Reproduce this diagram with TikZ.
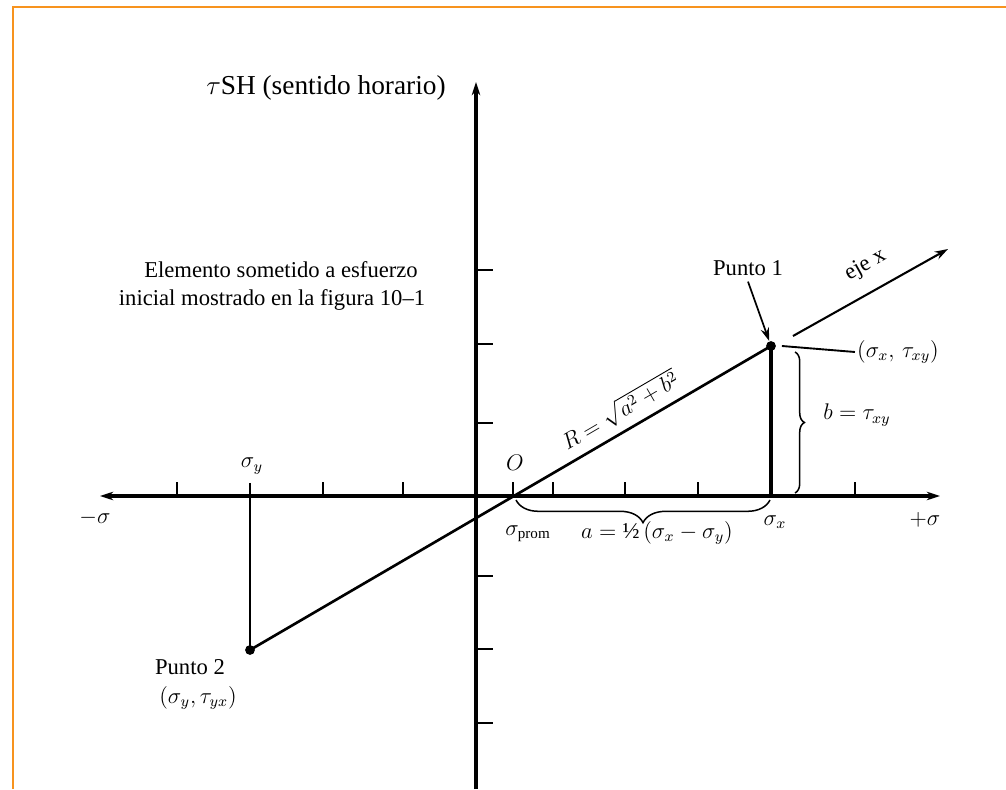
\documentclass[tikz,border=0pt]{standalone}
\usepackage{fontspec}
\setmainfont{Liberation Serif}
\usetikzlibrary{arrows.meta,decorations.pathreplacing}
\definecolor{frameorange}{HTML}{F7931E}
\begin{document}
\begin{tikzpicture}[x=0.53pt,y=0.53pt,
  axis/.style={line width=1.6pt},
  tickmark/.style={line width=1pt},
  lbl/.style={font=\fontsize{12}{14}\selectfont, inner sep=1pt},
  dot/.style={circle, fill=black, inner sep=0pt, minimum size=5.2pt},
  brc/.style={decorate, decoration={brace, amplitude=#1}, line width=0.8pt},
  arr/.style={-{Stealth[length=7pt,width=4.5pt]}},
  arrboth/.style={{Stealth[length=7pt,width=4.5pt]}-{Stealth[length=7pt,width=4.5pt]}}
]
\useasboundingbox (0,0) rectangle (1006,789);
\draw[frameorange, line width=1.4pt] (13,0) -- (13,782) -- (1006,782);

% axes
\coordinate (L) at (100,293);
\coordinate (Rr) at (940,293);
\coordinate (B) at (476,0);
\coordinate (T) at (476,707);
\draw[axis, arrboth] (L) -- (Rr);
\draw[axis, arr] (B) -- (T);
\foreach \x in {177,323,403,513,553,625,698,855}
  \draw[tickmark] (\x,293) -- (\x,307);
\foreach \y in {519,445,366,213,140,66}
  \draw[tickmark] (476,\y) -- (493,\y);

% points and lines
\node[dot] (p1) at (771,443) {};
\node[dot] (p2) at (250,139) {};
\coordinate (sx) at (771,293);
\coordinate (sy) at (250,306);
\draw[line width=2.1pt] (sx) -- (p1.center);
\draw[line width=1.1pt] (sy) -- (p2.center);
\draw[line width=1.4pt] (p2.center) -- node[pos=0.73, sloped, above=3pt, lbl] {$R=\sqrt{a^2+b^2}$} (p1.center);

% eje x
\coordinate (e0) at (793,453);
\coordinate (e1) at (948,540);
\draw[line width=1.1pt, arr] (e0) -- node[pos=0.55, sloped, above=7pt, lbl] {eje x} (e1);

% Punto 1
\node[lbl] (pt1) at (748,521) {Punto 1};
\draw[line width=0.9pt, arr] ([yshift=-2pt]pt1.south) -- (p1);
\node[lbl] (c1) at (898,437) {$(\sigma_x,\,\tau_{xy})$};
\draw[line width=1pt] ([xshift=3pt]p1.east) -- (c1.west);

% braces
\draw[brc=5pt] (795,437) -- (795,296);
\node[lbl] (bl) at (857,374) {$b=\tau_{xy}$};
\draw[brc=12pt] (770,289) -- (516,289);

% axis labels
\node[lbl] (sprom) at (528,255) {$\sigma_{\mathrm{prom}}$};
\node[lbl] (aeq) at (657,256) {$a=\mbox{½}\,(\sigma_x-\sigma_y)$};
\node[lbl] (sxl) at (775,267) {$\sigma_x$};
\node[lbl] (msig) at (95,271) {$-\sigma$};
\node[lbl] (psig) at (925,269) {$+\sigma$};
\node[lbl] (syl) at (252,323) {$\sigma_y$};
\node[lbl] (O) at (515,326) {$O$};

% texts
\node[lbl, font=\fontsize{14.5}{17}\selectfont] (title) at (326,701) {$\tau$SH (sentido horario)};
\node[lbl] (t1) at (281,519) {Elemento sometido a esfuerzo};
\node[lbl] (t2) at (272,489) {inicial mostrado en la figura 10--1};
\node[lbl] (pt2) at (190,122) {Punto 2};
\node[lbl] (c2) at (198,91) {$(\sigma_y,\tau_{yx})$};
\end{tikzpicture}
\end{document}
